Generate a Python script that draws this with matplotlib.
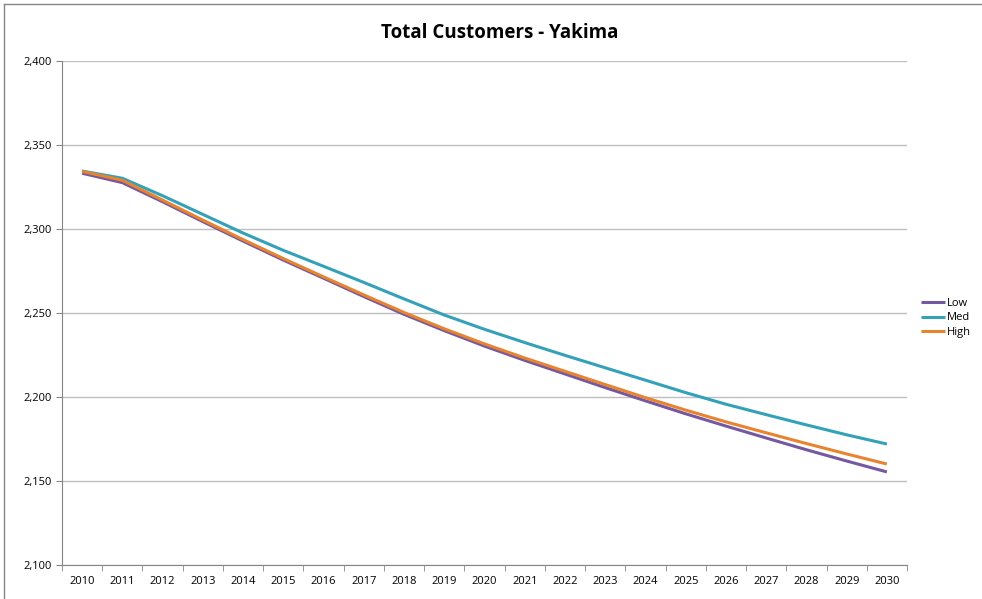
import matplotlib
matplotlib.use('Agg')
import matplotlib.pyplot as plt
from matplotlib.lines import Line2D
from matplotlib.ticker import FuncFormatter, FixedLocator

# Data
years = [str(y) for y in range(2010, 2031)]
low = [2333.2, 2327.6, 2316.2, 2304.4, 2292.8, 2281.5, 2270.7, 2259.8, 2249.2, 2239.5,
       2230.3, 2221.8, 2213.7, 2205.6, 2197.7, 2190.0, 2182.7, 2175.6, 2168.6, 2161.9, 2155.4]
med = [2334.5, 2330.2, 2319.8, 2308.7, 2297.6, 2287.3, 2277.8, 2268.2, 2258.4, 2248.8,
       2240.3, 2232.4, 2224.8, 2217.4, 2210.0, 2202.6, 2195.7, 2189.5, 2183.4, 2177.5, 2172.0]
high = [2334.3, 2329.0, 2317.2, 2305.3, 2293.7, 2282.4, 2271.5, 2260.8, 2250.3, 2240.6,
        2231.6, 2223.2, 2215.3, 2207.4, 2199.6, 2192.2, 2185.2, 2178.7, 2172.3, 2166.1, 2160.1]
series_names = ['Low', 'Med', 'High']
y_ticks = [2100, 2150, 2200, 2250, 2300, 2350, 2400]

colors = ['#7459A2', '#34A1B8', '#E8832F']

plt.rcParams['font.family'] = ['Open Sans', 'DejaVu Sans']

fig = plt.figure(figsize=(9.82, 5.99), dpi=100)
ax = fig.add_axes([62 / 982, 1 - 565 / 599, (907 - 62) / 982, (565 - 61) / 599])

x = list(range(len(years)))
lines = []
for vals, c in zip([low, med, high], colors):
    ln, = ax.plot(x, vals, color=c, lw=2.2, solid_capstyle='butt')
    lines.append(ln)

ax.set_xlim(-0.5, len(years) - 0.5)
ax.set_ylim(2100, 2400)
ax.set_yticks(y_ticks)
ax.yaxis.set_major_formatter(FuncFormatter(lambda v, p: f'{v:,.0f}'))
ax.set_xticks(x)
ax.set_xticklabels(years)
ax.xaxis.set_minor_locator(FixedLocator([i - 0.5 for i in range(len(years) + 1)]))
ax.tick_params(axis='x', which='major', length=0, pad=8, labelsize=8, colors='black')
ax.tick_params(axis='x', which='minor', length=4, color='#868686')
ax.tick_params(axis='y', length=4, color='#868686', labelsize=8, pad=3)

ax.grid(axis='y', color='#BFBFBF', lw=1)
ax.set_axisbelow(True)
for s in ['top', 'right']:
    ax.spines[s].set_visible(False)
for s in ['left', 'bottom']:
    ax.spines[s].set_color('#868686')

fig.text(500 / 982, 1 - 33 / 599, 'Total Customers - Yakima', ha='center', va='center',
         fontsize=13.5, fontweight='bold')

fig.legend(lines, series_names, loc='center left', bbox_to_anchor=(915 / 982, 1 - 318 / 599),
           frameon=False, fontsize=8, handlelength=2.2, handletextpad=0.2, labelspacing=0.3,
           borderpad=0)

# outer chart border (top and left edges visible)
fig.add_artist(Line2D([4 / 982, 1.0], [1 - 4 / 599, 1 - 4 / 599], transform=fig.transFigure,
                      color='#868686', lw=1))
fig.add_artist(Line2D([4 / 982, 4 / 982], [0.0, 1 - 4 / 599], transform=fig.transFigure,
                      color='#868686', lw=1))

fig.savefig('out.png', dpi=100)
